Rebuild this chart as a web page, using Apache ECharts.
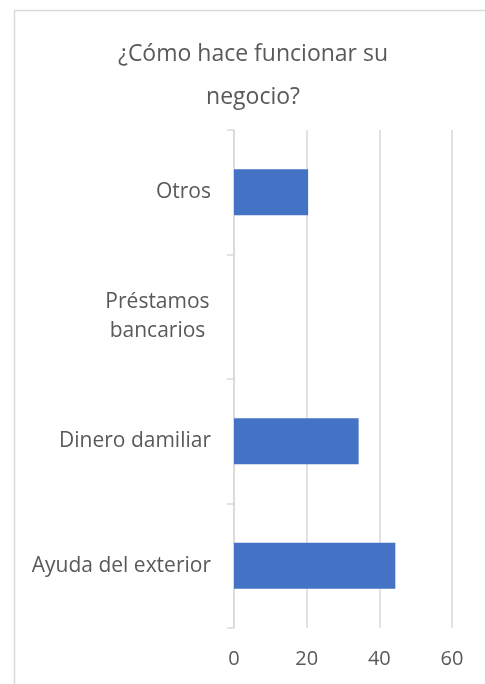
<!DOCTYPE html>
<html>
<head>
<meta charset="utf-8">
<script src="https://cdn.jsdelivr.net/npm/echarts@6/dist/echarts.min.js"></script>
<style>
  html, body { margin: 0; padding: 0; background: #fff; }
  #chart { width: 485px; height: 684px; }
</style>
</head>
<body>
<div id="chart"></div>
<script>
    // datos
    var categories = ['Otros', 'Préstamos\nbancarios', 'Dinero damiliar', 'Ayuda del exterior'];
    var values = [20.4, 0, 34.3, 44.4];
    var axisTicks = [0, 20, 40, 60];

    var chart = echarts.init(document.getElementById('chart'));
    var font = 'Open Sans';
    var grey = '#d9d9d9';

    var option = {
        backgroundColor: '#fff',
        animation: false,
        title: {
            text: '¿Cómo hace funcionar su\nnegocio?',
            left: 248,
            top: 28,
            textAlign: 'center',
            textStyle: {
                fontFamily: font,
                fontSize: 23,
                fontWeight: 'normal',
                color: '#595959',
                lineHeight: 43
            }
        },
        // marco del grafico (se sale por la derecha y por abajo)
        graphic: [{
            type: 'rect',
            shape: { x: 14.5, y: 10.5, width: 520, height: 720 },
            style: { fill: 'none', stroke: grey, lineWidth: 1.5 },
            silent: true
        }],
        grid: {
            left: 234,
            right: 33,
            top: 130,
            bottom: 56
        },
        xAxis: {
            type: 'value',
            min: axisTicks[0],
            max: axisTicks[axisTicks.length - 1],
            interval: axisTicks[1] - axisTicks[0],
            axisLine: { show: false },
            axisTick: { show: false },
            splitLine: { show: true, lineStyle: { color: grey, width: 1.5 } },
            axisLabel: {
                margin: 21,
                fontFamily: font,
                fontSize: 20,
                color: '#595959'
            }
        },
        yAxis: {
            type: 'category',
            inverse: true,
            data: categories,
            axisLine: { show: true, lineStyle: { color: grey, width: 1.5 } },
            axisTick: { show: true, alignWithLabel: false, length: 7, lineStyle: { color: grey, width: 1.5 } },
            splitLine: { show: false },
            axisLabel: {
                margin: 23,
                fontFamily: font,
                fontSize: 21,
                color: '#595959',
                formatter: function (v) {
                    if (v.indexOf('\n') < 0) return v;
                    return v.split('\n').map(function (s) { return '{c|' + s + '}'; }).join('\n');
                },
                rich: {
                    c: { width: 107, align: 'center', fontFamily: font, fontSize: 21, color: '#595959', lineHeight: 29 }
                }
            }
        },
        series: [{
            type: 'bar',
            data: values,
            barWidth: 46,
            itemStyle: { color: '#4472c4' }
        }]
    };

    chart.setOption(option);
</script>
</body>
</html>
